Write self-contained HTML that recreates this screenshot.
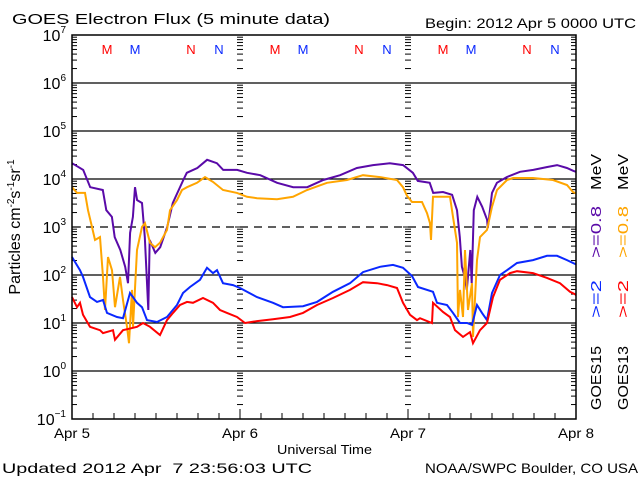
<!DOCTYPE html>
<html><head><meta charset="utf-8"><style>
body{margin:0;background:#fff;width:640px;height:480px;overflow:hidden}
svg text{font-family:"Liberation Sans",sans-serif;fill:#000}
</style></head><body>
<svg id="chart" width="640" height="480" xmlns="http://www.w3.org/2000/svg">
<text x="12" y="24" font-size="15" textLength="318" lengthAdjust="spacingAndGlyphs">GOES Electron Flux (5 minute data)</text>
<text x="425" y="28" font-size="14" textLength="211" lengthAdjust="spacingAndGlyphs">Begin: 2012 Apr 5 0000 UTC</text>
<text transform="translate(20,227) rotate(-90)" font-size="16" text-anchor="middle">Particles cm<tspan font-size="10" dy="-6">-2</tspan><tspan dy="6">s</tspan><tspan font-size="10" dy="-6">-1</tspan><tspan dy="6">sr</tspan><tspan font-size="10" dy="-6">-1</tspan></text>
<text x="277" y="454" font-size="13" textLength="95" lengthAdjust="spacingAndGlyphs">Universal Time</text>
<text x="2" y="473" font-size="14" xml:space="preserve" textLength="310" lengthAdjust="spacingAndGlyphs">Updated 2012 Apr  7 23:56:03 UTC</text>
<text x="425" y="473" font-size="14" textLength="213" lengthAdjust="spacingAndGlyphs">NOAA/SWPC Boulder, CO USA</text>
<g id="grid"></g><g id="ticks"></g><g id="labels"></g><g id="marks"></g><g id="series"></g>
<rect x="72" y="35" width="504" height="384" fill="none" stroke="#000" stroke-width="1.5"/>
<g font-size="15">
<text transform="translate(601,410) rotate(-90)" textLength="64" lengthAdjust="spacingAndGlyphs">GOES15</text>
<text transform="translate(601,318) rotate(-90)" textLength="38" lengthAdjust="spacingAndGlyphs" style="fill:#0a28ff">&gt;=2</text>
<text transform="translate(601,258) rotate(-90)" textLength="52" lengthAdjust="spacingAndGlyphs" style="fill:#5a0aa8">&gt;=0.8</text>
<text transform="translate(601,190) rotate(-90)" textLength="36" lengthAdjust="spacingAndGlyphs">MeV</text>
<text transform="translate(628,410) rotate(-90)" textLength="64" lengthAdjust="spacingAndGlyphs">GOES13</text>
<text transform="translate(628,318) rotate(-90)" textLength="38" lengthAdjust="spacingAndGlyphs" style="fill:#f00">&gt;=2</text>
<text transform="translate(628,258) rotate(-90)" textLength="52" lengthAdjust="spacingAndGlyphs" style="fill:#ffa500">&gt;=0.8</text>
<text transform="translate(628,190) rotate(-90)" textLength="36" lengthAdjust="spacingAndGlyphs">MeV</text>
</g>
</svg>
<script>
const dayLabels=["Apr 5","Apr 6","Apr 7","Apr 8"];
const decades=[-1,0,1,2,3,4,5,6,7];
const markerLetters=["M","M","N","N"];
const markerHours=[5,9,17,21];
// hours since Apr 5 00:00 and log10 flux
const p15T=[0,1.6,2.6,4.4,4.9,5.7,6.1,6.9,7.6,8.0,8.3,8.7,9.0,9.3,10.0,10.4,10.9,11.1,11.9,12.6,13.6,14.4,15.9,16.4,17.9,19.3,20.7,21.6,23.6,25.0,26.9,29.3,31.6,33.6,35.9,38.3,40.7,43.0,45.4,47.3,48.7,49.4,51.1,51.6,53.0,54.3,55.0,55.4,55.7,56.1,56.4,56.9,57.1,57.4,57.9,58.6,59.3,59.4,60.0,60.7,62.1,64.0,65.9,67.9,69.3,70.7,71.6,72];
const p15V=[4.33,4.19,3.83,3.77,3.35,3.21,2.79,2.52,2.17,1.83,2.88,3.21,3.83,3.56,3.50,2.79,1.27,2.73,2.46,2.58,3.0,3.5,3.98,4.13,4.23,4.40,4.33,4.19,4.19,4.13,4.08,3.92,3.83,3.83,3.98,4.08,4.23,4.29,4.33,4.29,4.13,3.96,3.92,3.71,3.73,3.67,3.35,2.79,2.17,1.96,1.69,2.52,1.83,3.35,3.63,3.42,3.15,2.98,3.71,3.92,4.04,4.15,4.19,4.25,4.29,4.23,4.17,4.15];
const o13T=[0,0.71,1.86,2.29,2.86,3.29,4.0,4.43,4.71,5.14,5.71,6.14,6.86,7.29,7.86,8.14,8.57,8.71,9.29,10.0,10.43,11.14,11.86,12.57,13.57,14.0,15.0,15.71,16.43,17.86,19.0,20.14,21.57,23.57,25.0,26.43,29.29,31.57,33.57,36.43,39.29,41.57,44.0,46.43,47.29,47.86,48.57,50.0,50.71,51.14,51.29,51.57,54.0,54.43,55.0,55.14,55.43,55.86,56.14,56.57,57.14,57.29,57.86,58.29,59.29,60.0,60.71,62.14,63.0,65.86,68.71,70.71,71.57,72];
const o13V=[3.83,3.71,3.71,3.35,3.0,2.73,2.79,1.96,1.27,2.375,2.10,1.33,1.96,1.48,0.92,0.58,1.69,0.92,2.52,3.0,3.08,2.67,2.58,2.67,2.94,3.35,3.56,3.77,3.83,3.92,4.04,3.94,3.77,3.71,3.63,3.60,3.58,3.63,3.77,3.92,3.98,4.08,4.04,3.98,3.83,3.65,3.52,3.52,3.29,3.08,2.73,3.63,3.63,3.21,2.67,1.125,1.69,1.125,2.52,1.27,1.83,0.71,2.31,2.79,2.94,3.42,3.77,3.98,4.02,4.02,3.98,3.875,3.73,3.70];
const b15T=[0,1.14,1.57,2.57,3.57,4.43,5.0,6.43,7.29,8.29,8.71,9.29,10.0,10.71,12.14,13.57,15.0,15.86,16.86,18.29,19.29,20.14,20.71,21.57,23.0,24.0,25.0,26.43,28.71,30.14,33.0,35.0,37.29,39.71,41.57,44.0,45.86,47.29,48.57,49.43,51.57,52.14,53.57,54.43,55.43,56.43,57.14,57.86,58.57,59.29,60.0,61.14,62.14,63.57,65.86,67.86,69.29,70.71,71.57,72];
const b15V=[2.375,2.10,1.96,1.54,1.44,1.48,1.21,1.125,1.10,1.625,1.54,1.42,1.33,1.06,1.02,1.125,1.375,1.625,1.75,1.90,2.15,2.04,2.10,1.83,1.79,1.73,1.65,1.54,1.42,1.33,1.35,1.44,1.65,1.83,2.06,2.17,2.21,2.15,1.98,1.75,1.65,1.42,1.375,1.21,1.0,1.0,0.96,1.375,1.21,1.06,1.625,2.0,2.10,2.25,2.31,2.40,2.40,2.31,2.25,2.22];
const r13T=[0,0.71,1.14,1.57,2.57,4.0,4.43,5.86,6.14,7.29,9.29,10.14,11.14,12.57,13.57,14.43,15.43,16.43,17.29,18.71,20.14,21.14,22.14,23.57,24.71,26.43,28.71,31.14,33.0,35.0,37.29,39.71,41.57,43.57,45.0,46.43,47.29,48.29,49.29,49.71,51.43,51.57,53.0,54.0,54.71,55.86,56.86,57.29,58.29,59.29,60.14,61.14,62.57,63.57,65.86,67.86,69.71,71.14,71.86,72];
const r13V=[1.54,1.33,1.42,1.17,0.92,0.85,0.79,0.85,0.65,0.85,0.92,1.0,0.92,0.75,1.06,1.21,1.375,1.44,1.42,1.52,1.42,1.27,1.21,1.125,1.0,1.04,1.08,1.125,1.21,1.375,1.52,1.69,1.85,1.83,1.79,1.73,1.42,1.17,1.06,1.10,1.0,1.42,1.23,1.125,0.85,0.71,0.81,0.58,0.85,1.0,1.54,1.90,2.04,2.08,2.04,1.94,1.83,1.65,1.60,1.58];

const NS="http://www.w3.org/2000/svg";
const X0=72,X1=576,Y0=419,Y1=35;
function xs(h){return X0+(X1-X0)*h/72;}
function ys(l){return Y0-(Y0-Y1)*(l+1)/8;}
function mk(tag,parent,attrs){const e=document.createElementNS(NS,tag);for(const k in attrs)e.setAttribute(k,attrs[k]);document.getElementById(parent).appendChild(e);return e;}

decades.forEach(d=>{
  const y=ys(d);
  if(d>-1&&d<7){
    const g=mk('line','grid',{x1:X0,x2:X1,y1:y,y2:y,stroke:'#000','stroke-width':1.3});
    if(d===3)g.setAttribute('stroke-dasharray','8,6');
    
    
  }
  const t=mk('text','labels',{x:66,y:y+6,'font-size':16,'text-anchor':'end'});
  
  
  t.innerHTML='10<tspan font-size="10" dy="-8">'+(d<0?'\u2212'+(-d):d)+'</tspan>';
  if(d<7){
    for(let m=2;m<=9;m++){
      const ym=ys(d+Math.log10(m));
      [[X0,X0+5],[X1-5,X1],[xs(24)-3,xs(24)+3],[xs(48)-3,xs(48)+3]].forEach(p=>{
        const l=mk('line','ticks',{x1:p[0],x2:p[1],y1:ym,y2:ym,stroke:'#000','stroke-width':1});
        
        
      });
    }
  }
  [[X0,X0+9],[X1-9,X1],[xs(24)-5,xs(24)+5],[xs(48)-5,xs(48)+5]].forEach(p=>{
    const l=mk('line','ticks',{x1:p[0],x2:p[1],y1:y,y2:y,stroke:'#000','stroke-width':1});
    
    
  });
});
for(let h=3;h<72;h+=3){
  const l=mk('line','ticks',{x1:xs(h),x2:xs(h),y1:Y0,y2:Y0-(h%24===0?10:6),stroke:'#000','stroke-width':1});
  
  
}
dayLabels.forEach((s,i)=>{
  const t=mk('text','labels',{x:xs(i*24)-18,y:438,'font-size':14,textLength:36,lengthAdjust:'spacingAndGlyphs'});
  t.textContent=s;
  
  
});
for(let day=0;day<3;day++){
  markerHours.forEach((h,i)=>{
    const t=mk('text','marks',{x:xs(day*24+h),y:54,'font-size':13,'text-anchor':'middle',style:'fill:'+(i%2===0?'#f00':'#0a28ff')});
    t.textContent=markerLetters[i];
    
    
  });
}
function drawSeries(T,V,color,name){
  const pts=T.map((t,i)=>xs(t).toFixed(1)+','+ys(V[i]).toFixed(1)).join(' ');
  const p=mk('polyline','series',{points:pts,fill:'none',stroke:color,'stroke-width':2,'stroke-linejoin':'miter'});
  
  
}
drawSeries(p15T,p15V,'#5a0aa8','series-goes15-ge08');
drawSeries(o13T,o13V,'#ffa500','series-goes13-ge08');
drawSeries(b15T,b15V,'#0a28ff','series-goes15-ge2');
drawSeries(r13T,r13V,'#f00','series-goes13-ge2');
</script>
</body></html>
